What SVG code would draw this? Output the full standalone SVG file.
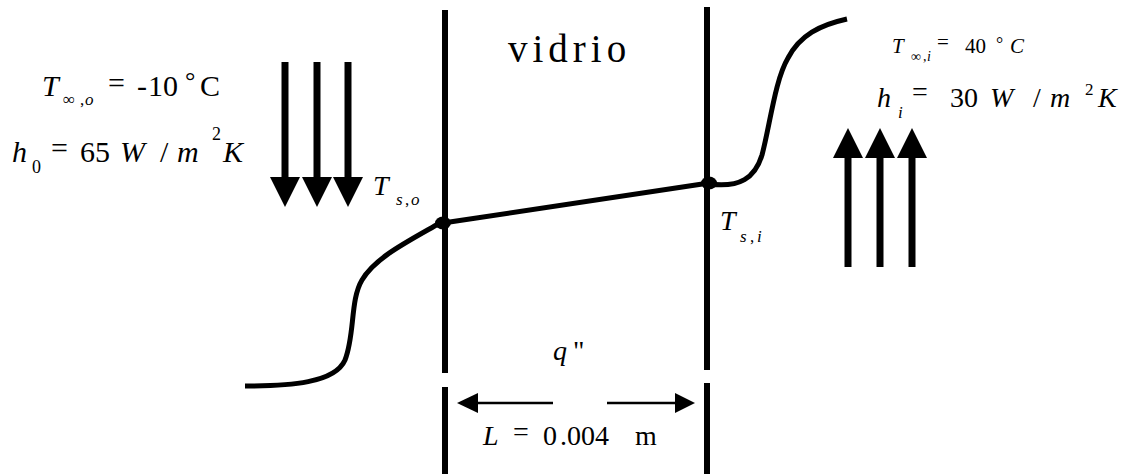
<svg xmlns="http://www.w3.org/2000/svg" width="1124" height="474" viewBox="0 0 1124 474" font-family="Liberation Serif, Times New Roman, serif">
<style>
text{font-family:"Liberation Serif","Times New Roman",serif;fill:#000}
.i{font-style:italic}
.wall{stroke:#000;stroke-width:6;fill:none}
.curve{stroke:#000;stroke-width:5;fill:none;stroke-linecap:butt}
.shaft{stroke:#000;stroke-width:7}
.dim{stroke:#000;stroke-width:2.5}
.head{fill:#000}
</style>
<rect width="1124" height="474" fill="#fff"/>
<g id="wall-left">
<line class="wall" x1="445" y1="10" x2="445" y2="373"/>
<line class="wall" x1="445" y1="387" x2="445" y2="474"/>
</g>
<g id="wall-right">
<line class="wall" x1="707" y1="7" x2="707" y2="370"/>
<line class="wall" x1="707" y1="383" x2="707" y2="474"/>
</g>
<g id="label-vidrio">
<text x="508" y="62" font-size="39" letter-spacing="5">vidrio</text>
</g>
<g id="connectors">
<path class="curve" d="M245,386 C290,386 335,383 345,360 C355,335 350,300 362,280 C375,258 405,243 440,223"/>
<line class="curve" x1="443" y1="223" x2="709" y2="183"/>
<path class="curve" d="M709,184 C740,188 755,178 762,155 C770,125 775,80 788,58 C800,35 820,25 847,19"/>
<line class="shaft" x1="285" y1="62" x2="285" y2="180"/>
<line class="shaft" x1="317" y1="62" x2="317" y2="180"/>
<line class="shaft" x1="348" y1="62" x2="348" y2="180"/>
<polygon class="head" points="270,177 300,177 285,207"/>
<polygon class="head" points="302,177 332,177 317,207"/>
<polygon class="head" points="333,177 363,177 348,207"/>
<line class="shaft" x1="848" y1="155" x2="848" y2="267"/>
<line class="shaft" x1="880" y1="155" x2="880" y2="267"/>
<line class="shaft" x1="912" y1="155" x2="912" y2="267"/>
<polygon class="head" points="833,158 863,158 848,128"/>
<polygon class="head" points="865,158 895,158 880,128"/>
<polygon class="head" points="897,158 927,158 912,128"/>
<line class="dim" x1="475" y1="403" x2="553" y2="403"/>
<polygon class="head" points="457,403 478,393 478,413"/>
<line class="dim" x1="607" y1="403" x2="677" y2="403"/>
<polygon class="head" points="695,403 675,393 675,413"/>
</g>
<g id="node-Tso">
<ellipse cx="443" cy="223" rx="8" ry="6.5"/>
<text class="i" x="373" y="195" font-size="28">T</text>
<text class="i" x="396" y="205" font-size="17">s</text>
<text x="405" y="205" font-size="17">,</text>
<text class="i" x="411" y="205" font-size="17">o</text>
</g>
<g id="node-Tsi">
<ellipse cx="709" cy="183" rx="8" ry="6.5"/>
<text class="i" x="720" y="230" font-size="28">T</text>
<text class="i" x="740" y="242" font-size="17">s</text>
<text x="750" y="242" font-size="17">,</text>
<text class="i" x="757" y="242" font-size="17">i</text>
</g>
<g id="label-outside">
<text class="i" x="42" y="96" font-size="30">T</text>
<text x="63" y="105" font-size="17">∞</text>
<text x="80" y="105" font-size="17">,</text>
<text class="i" x="85" y="105" font-size="17">o</text>
<text x="108" y="93" font-size="30">=</text>
<text x="137" y="96" font-size="30">-</text>
<text x="148" y="96" font-size="30">10</text>
<text x="185" y="89" font-size="26">°</text>
<text x="200" y="96" font-size="30">C</text>
<text class="i" x="12" y="162" font-size="30">h</text>
<text x="32" y="173" font-size="18">0</text>
<text x="51" y="158" font-size="30">=</text>
<text x="80" y="162" font-size="30">65</text>
<text class="i" x="120" y="162" font-size="30">W</text>
<text x="160" y="162" font-size="30">/</text>
<text class="i" x="177" y="162" font-size="30">m</text>
<text x="212" y="140" font-size="18">2</text>
<text class="i" x="223" y="162" font-size="30">K</text>
</g>
<g id="label-inside">
<text class="i" x="892" y="53" font-size="21">T</text>
<text x="911" y="61" font-size="14">∞</text>
<text x="923" y="61" font-size="14">,</text>
<text class="i" x="927" y="61" font-size="14">i</text>
<text x="937" y="49" font-size="21">=</text>
<text x="965" y="53" font-size="21">40</text>
<text x="996" y="50" font-size="18">°</text>
<text class="i" x="1010" y="53" font-size="21">C</text>
<text class="i" x="877" y="107" font-size="28">h</text>
<text class="i" x="898" y="118" font-size="17">i</text>
<text x="912" y="101" font-size="28">=</text>
<text x="950" y="107" font-size="28">30</text>
<text class="i" x="990" y="107" font-size="28">W</text>
<text x="1033" y="107" font-size="28">/</text>
<text class="i" x="1050" y="107" font-size="28">m</text>
<text x="1085" y="95" font-size="17">2</text>
<text class="i" x="1098" y="107" font-size="28">K</text>
</g>
<g id="label-q">
<text class="i" x="553" y="360" font-size="28">q</text>
<text x="573" y="360" font-size="28">"</text>
</g>
<g id="label-L">
<text class="i" x="483" y="445" font-size="28">L</text>
<text x="513" y="441" font-size="28">=</text>
<text x="543" y="445" font-size="28">0</text>
<text x="560" y="445" font-size="28">.</text>
<text x="567" y="445" font-size="28">004</text>
<text x="635" y="445" font-size="28">m</text>
</g>
</svg>
